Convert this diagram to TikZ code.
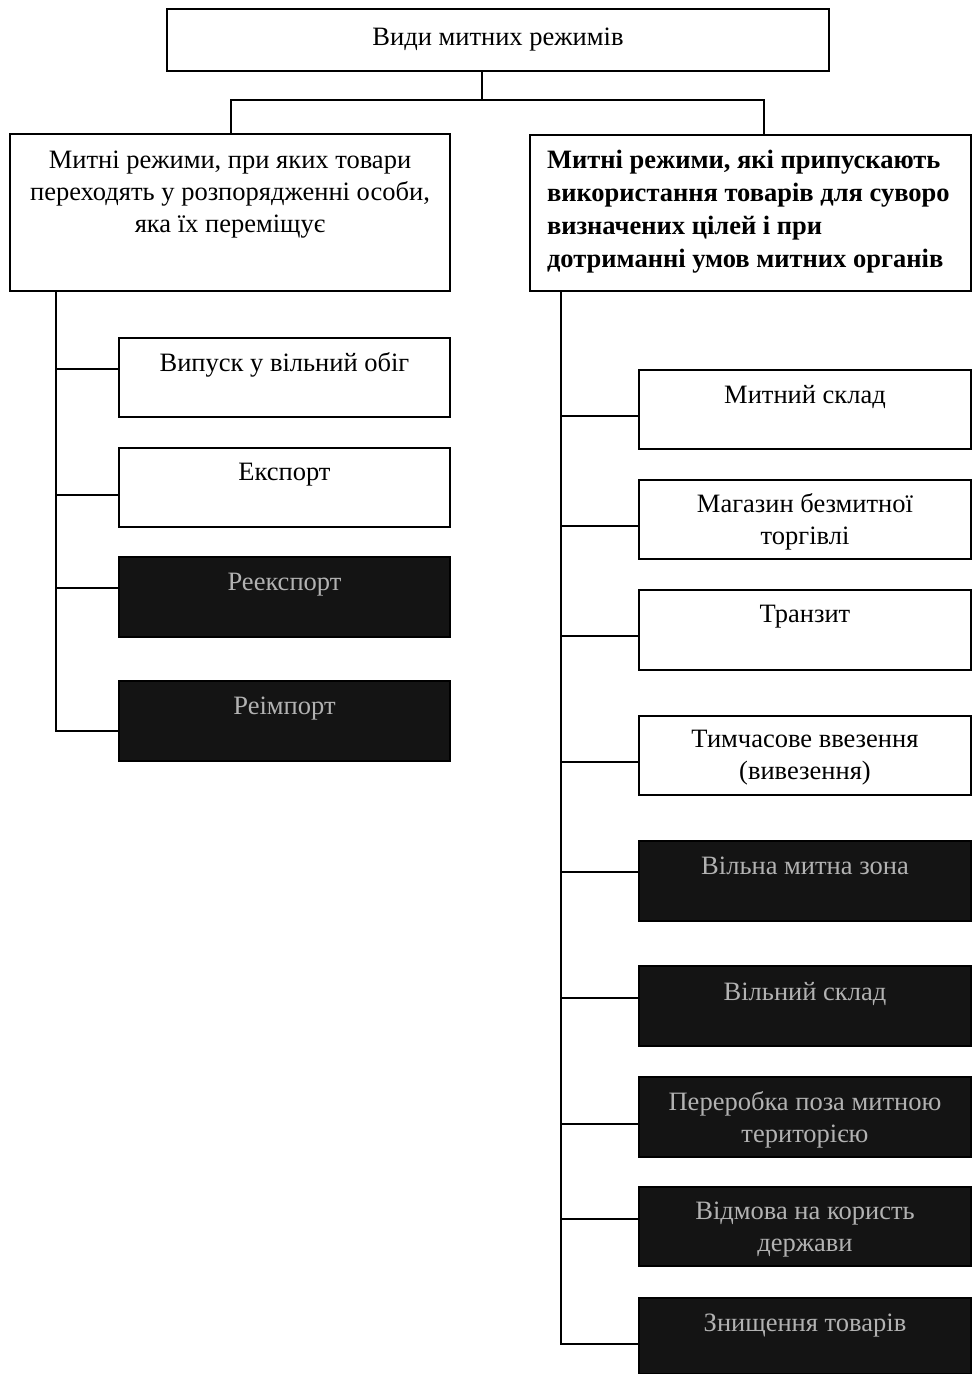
\documentclass[tikz,border=0pt]{standalone}
\usepackage{fontspec}
\setmainfont{Liberation Serif}
\usetikzlibrary{calc}
% a box whose text starts near its top edge
\newcommand\celltext[4]{\parbox[t][#2][t]{#1}{\centering\vspace*{#3}#4\par}}
\newcommand\celltextl[4]{\parbox[t][#2][t]{#1}{\raggedright\leftskip=17pt\vspace*{#3}#4\par}}
\begin{document}
\begin{tikzpicture}[x=1pt,y=-1pt,
  box/.style={draw=black, line width=2pt, anchor=north west, inner sep=0pt, fill=white,
    font=\fontsize{26.5}{32}\selectfont},
  darkbox/.style={box, fill=black!92, text=black!30},
  link/.style={line width=2pt, line cap=rect}]
\useasboundingbox (0,0) rectangle (972,1374);
\fill[white] (0,0) rectangle (972,1374);

% top level
\node[box] (top) at (166,8) {\celltext{662pt}{62pt}{19pt}{Види митних режимів}};

% two groups
\node[box] (L) at (9,133) {\celltext{440pt}{157pt}{17pt}{Митні режими, при яких товари\\ переходять у розпорядженні особи,\\ яка їх переміщує}};
\node[box, font=\fontsize{26.5}{33}\selectfont\bfseries] (R) at (529,134) {\celltextl{441pt}{156pt}{15pt}{Митні режими, які припускають\\ використання товарів для суворо\\ визначених цілей і при\\ дотриманні умов митних органів}};

% left group items
\node[box] (c1) at (118,337) {\celltext{331pt}{79pt}{15pt}{Випуск у вільний обіг}};
\node[box] (c2) at (118,447) {\celltext{331pt}{79pt}{15pt}{Експорт}};
\node[darkbox] (c3) at (118,556) {\celltext{331pt}{80pt}{16pt}{Реекспорт}};
\node[darkbox] (c4) at (118,680) {\celltext{331pt}{80pt}{16pt}{Реімпорт}};

% right group items
\node[box] (d1) at (638,369) {\celltext{332pt}{79pt}{15pt}{Митний склад}};
\node[box] (d2) at (638,479) {\celltext{332pt}{79pt}{14pt}{Магазин безмитної\\ торгівлі}};
\node[box] (d3) at (638,589) {\celltext{332pt}{80pt}{15pt}{Транзит}};
\node[box] (d4) at (638,715) {\celltext{332pt}{79pt}{14pt}{Тимчасове ввезення\\ (вивезення)}};
\node[darkbox] (d5) at (638,840) {\celltext{332pt}{80pt}{16pt}{Вільна митна зона}};
\node[darkbox] (d6) at (638,965) {\celltext{332pt}{80pt}{16pt}{Вільний склад}};
\node[darkbox] (d7) at (638,1076) {\celltext{332pt}{80pt}{15pt}{Переробка поза митною\\ територією}};
\node[darkbox] (d8) at (638,1186) {\celltext{332pt}{79pt}{15pt}{Відмова на користь\\ держави}};
\node[darkbox] (d9) at (638,1297) {\celltext{332pt}{76pt}{16pt}{Знищення товарів}};

% connectors from the top box to the groups
\coordinate (hub) at (482,100);
\coordinate (lj) at (231,100);
\coordinate (rj) at (764,100);
\draw[link] (top.south -| hub) -- (hub);
\draw[link] (L.north -| lj) -- (lj) -- (rj) -- (R.north -| rj);

% left trunk and branches
\coordinate (lt) at (56,0);
\draw[link] (L.south -| lt) -- (lt |- 0,731);
\foreach \n/\yy in {c1/369, c2/495, c3/588, c4/731}
  \draw[link] (lt |- 0,\yy) -- (\n.west |- 0,\yy);

% right trunk and branches
\coordinate (rt) at (561,0);
\draw[link] (R.south -| rt) -- (rt |- 0,1344);
\foreach \n/\yy in {d1/416, d2/526, d3/636, d4/762, d5/872, d6/998, d7/1124, d8/1219, d9/1344}
  \draw[link] (rt |- 0,\yy) -- (\n.west |- 0,\yy);
\end{tikzpicture}
\end{document}
